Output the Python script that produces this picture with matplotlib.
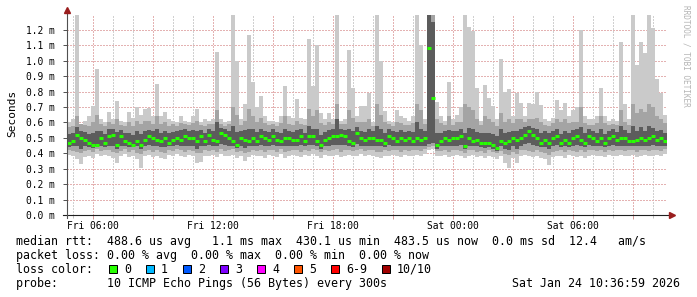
import numpy as np
import matplotlib
matplotlib.use("Agg")
import matplotlib.pyplot as plt
from matplotlib.patches import Rectangle

# smokeping style rtt graph, last 30 hours, values in microseconds
# one column every 12 minutes, first column starts Fri 04:42
start_hour = 4.7
step_hour = 0.2

med = [468, 478, 522, 500, 489, 468, 457, 457, 500, 468,
       511, 522, 457, 511, 478, 468, 457, 478, 457, 489,
       511, 500, 489, 478, 500, 468, 489, 500, 489, 515,
       500, 500, 478, 511, 478, 522, 489, 478, 532, 522,
       500, 478, 457, 500, 489, 478, 500, 478, 511, 500,
       489, 511, 489, 478, 500, 500, 489, 489, 511, 478,
       511, 511, 478, 457, 489, 500, 511, 515, 522, 511,
       478, 468, 532, 500, 489, 500, 500, 489, 489, 468,
       511, 500, 478, 500, 489, 500, 478, 500, 489, 500,
       1080, 760, 457, 478, 500, 489, 500, 500, 511, 446,
       500, 478, 489, 468, 468, 468, 457, 435, 478, 468,
       478, 500, 489, 500, 522, 543, 522, 500, 468, 489,
       468, 500, 511, 468, 489, 468, 500, 511, 489, 468,
       511, 500, 478, 500, 468, 500, 511, 489, 500, 500,
       478, 478, 489, 500, 489, 500, 511, 489, 500, 478]

# max of the 10 pings
hi = [600, 620, 1300, 590, 610, 640, 710, 950, 620, 600,
      665, 620, 740, 610, 600, 665, 630, 700, 650, 690,
      695, 640, 850, 640, 670, 620, 610, 600, 640, 610,
      605, 640, 685, 600, 620, 610, 620, 1060, 620, 600,
      610, 1300, 1000, 620, 720, 1165, 860, 700, 770, 640,
      610, 610, 600, 640, 835, 640, 630, 750, 630, 620,
      1140, 835, 1105, 660, 620, 660, 620, 1300, 610, 620,
      1070, 825, 640, 705, 705, 790, 600, 1300, 1000, 675,
      610, 600, 680, 640, 630, 610, 640, 1300, 1100, 620,
      1300, 1300, 730, 640, 610, 865, 620, 650, 700, 1300,
      1220, 1190, 825, 610, 845, 760, 705, 620, 1010, 800,
      815, 640, 790, 727, 640, 727, 720, 800, 716, 620,
      610, 630, 748, 680, 727, 640, 680, 700, 1200, 640,
      620, 620, 640, 825, 640, 610, 620, 610, 1125, 720,
      620, 1300, 975, 1125, 1050, 1300, 1210, 880, 790, 650]

# min of the 10 pings
lo = [390, 380, 360, 330, 375, 385, 370, 395, 380, 390,
      385, 370, 340, 380, 395, 375, 385, 360, 305, 380,
      390, 375, 385, 370, 360, 390, 380, 395, 385, 375,
      390, 385, 340, 345, 385, 380, 390, 375, 395, 380,
      385, 390, 370, 380, 350, 375, 390, 380, 385, 370,
      390, 385, 375, 395, 370, 380, 390, 385, 375, 390,
      380, 395, 385, 370, 390, 380, 385, 390, 375, 385,
      390, 380, 385, 395, 380, 390, 385, 375, 370, 385,
      380, 390, 385, 375, 390, 380, 385, 390, 380, 395,
      420, 430, 385, 380, 390, 375, 385, 390, 380, 370,
      385, 390, 375, 380, 370, 385, 375, 360, 380, 340,
      305, 370, 340, 385, 390, 380, 375, 385, 370, 360,
      327, 375, 380, 385, 370, 390, 380, 375, 385, 370,
      385, 390, 380, 385, 375, 390, 380, 385, 390, 380,
      385, 390, 375, 385, 390, 380, 385, 390, 380, 395]

# 2nd and 9th ping
lo9 = [420, 415, 410, 400, 415, 420, 410, 425, 415, 420,
       420, 410, 400, 415, 425, 410, 420, 405, 395, 415,
       420, 410, 420, 410, 405, 420, 415, 425, 420, 410,
       420, 415, 400, 405, 420, 415, 420, 410, 425, 415,
       420, 425, 410, 415, 400, 410, 420, 415, 420, 410,
       420, 420, 410, 425, 410, 415, 420, 420, 410, 420,
       415, 425, 420, 410, 420, 415, 420, 425, 410, 420,
       420, 415, 420, 425, 415, 420, 420, 410, 410, 420,
       415, 420, 420, 410, 420, 415, 420, 420, 415, 425,
       440, 450, 415, 415, 420, 410, 420, 420, 415, 405,
       420, 420, 410, 415, 405, 420, 410, 400, 415, 395,
       390, 410, 395, 420, 420, 415, 410, 420, 410, 400,
       390, 410, 415, 420, 410, 420, 415, 410, 420, 410,
       420, 420, 415, 420, 410, 420, 415, 420, 420, 415,
       420, 420, 410, 420, 420, 415, 420, 420, 415, 425]

hi9 = [570, 580, 640, 590, 585, 580, 600, 650, 590, 575,
       600, 590, 620, 585, 575, 600, 580, 610, 590, 610,
       610, 590, 640, 590, 600, 580, 590, 580, 595, 590,
       585, 595, 610, 585, 580, 590, 590, 680, 590, 580,
       590, 700, 650, 585, 610, 690, 640, 600, 630, 595,
       585, 590, 580, 595, 640, 590, 585, 610, 590, 585,
       690, 640, 680, 595, 585, 600, 590, 720, 590, 590,
       680, 630, 600, 605, 605, 620, 580, 720, 650, 600,
       590, 580, 600, 595, 585, 585, 595, 720, 680, 590,
       1300, 1300, 620, 595, 585, 640, 585, 600, 605, 720,
       700, 680, 620, 585, 640, 620, 605, 575, 660, 605,
       620, 595, 620, 620, 600, 625, 620, 630, 605, 585,
       580, 595, 620, 600, 620, 595, 605, 605, 700, 595,
       585, 585, 595, 640, 595, 585, 590, 585, 680, 605,
       585, 720, 660, 690, 670, 720, 700, 640, 620, 595]

# 3rd/4th and 7th/8th ping (dark core)
q1 = [440, 445, 450, 430, 445, 440, 435, 445, 450, 440,
      450, 445, 425, 450, 450, 440, 440, 445, 430, 445,
      455, 445, 450, 440, 440, 445, 445, 455, 450, 450,
      450, 450, 430, 445, 445, 455, 450, 445, 460, 455,
      450, 450, 435, 450, 435, 445, 450, 445, 455, 450,
      450, 455, 445, 450, 445, 450, 450, 445, 455, 445,
      455, 455, 445, 430, 450, 450, 455, 455, 455, 455,
      445, 440, 460, 450, 445, 450, 450, 445, 445, 440,
      455, 450, 445, 450, 445, 450, 445, 450, 445, 450,
      460, 470, 430, 445, 450, 445, 450, 450, 455, 425,
      450, 445, 445, 440, 435, 440, 430, 415, 445, 425,
      420, 450, 430, 450, 460, 470, 455, 450, 440, 440,
      425, 450, 455, 440, 445, 440, 450, 455, 450, 440,
      455, 450, 445, 450, 440, 450, 455, 445, 450, 450,
      445, 445, 445, 450, 445, 450, 455, 445, 450, 445]

q3 = [525, 530, 570, 545, 540, 525, 530, 545, 545, 525,
      555, 560, 540, 550, 530, 535, 520, 545, 525, 545,
      550, 545, 560, 535, 545, 530, 540, 545, 550, 555,
      545, 550, 545, 550, 535, 560, 545, 600, 565, 560,
      545, 580, 540, 545, 550, 560, 555, 540, 560, 545,
      540, 555, 540, 535, 560, 545, 540, 550, 555, 535,
      575, 555, 560, 520, 540, 550, 555, 620, 560, 550,
      560, 545, 570, 545, 540, 555, 545, 580, 560, 530,
      555, 545, 540, 550, 540, 545, 540, 600, 560, 545,
      1300, 1250, 530, 535, 545, 550, 545, 545, 555, 530,
      565, 560, 540, 530, 535, 530, 525, 510, 560, 530,
      540, 545, 545, 560, 570, 580, 565, 555, 530, 545,
      530, 545, 560, 525, 545, 530, 550, 560, 570, 530,
      555, 545, 535, 555, 525, 545, 555, 540, 580, 550,
      530, 575, 545, 570, 545, 580, 565, 545, 550, 535]

tick_hours = [6, 12, 18, 24, 30]
tick_labels = ["Fri 06:00", "Fri 12:00", "Fri 18:00", "Sat 00:00", "Sat 06:00"]

loss_labels = ["0", "1", "2", "3", "4", "5", "6-9", "10/10"]
loss_colors = ["#26ff00", "#00b8ff", "#0059ff", "#7e00ff",
               "#ff00ff", "#ff5500", "#ff0000", "#a10000"]

plt.rcParams["font.family"] = "DejaVu Sans Mono"

fig = plt.figure(figsize=(6.97, 2.97), dpi=100)
fig.patch.set_facecolor("white")
ax = fig.add_axes([67 / 697, 82 / 297, 600 / 697, 200 / 297])

t = start_hour + step_hour * np.arange(len(med))
edges = np.append(t, t[-1] + step_hour)


def band(low, high, color):
    low = np.append(low, low[-1])
    high = np.append(high, high[-1])
    ax.fill_between(edges, low, high, step="post", color=color, linewidth=0, zorder=2)


band(lo, hi, "#cacaca")
band(lo9, hi9, "#a4a4a4")
band(q1, q3, "#5c5c5c")
ax.hlines(med, t, t + step_hour, colors="#26ff00", linewidth=2.2, zorder=3)

ax.set_xlim(start_hour, start_hour + 30)
ax.set_ylim(0, 1297)

major_x = np.arange(6, 35, 3)
ax.set_xticks(major_x, labels=[tick_labels[tick_hours.index(h)] if h in tick_hours else ""
                               for h in major_x])
ax.set_xticks(np.arange(5, 35, 1), minor=True)
yt = np.arange(0, 1201, 100)
ax.set_yticks(yt, labels=["%.1f m" % (v / 1000) for v in yt])

# rrdtool grid: 1px dots, red major, grey minor
dots = (0, (1, 1))
ax.grid(which="major", color="#e4b2b2", linestyle=dots, linewidth=1.0, antialiased=False)
ax.grid(which="minor", axis="x", color="#d0d0d0", linestyle=dots, linewidth=1.0,
        antialiased=False)
ax.set_axisbelow(True)

ax.tick_params(axis="x", which="major", length=3, width=0.72, color="#d99a9a",
               labelsize=6.9, pad=1.5)
ax.tick_params(axis="x", which="minor", length=2, width=0.72, color="#c4c4c4")
ax.tick_params(axis="y", length=3, width=0.72, color="#555555", labelsize=6.9, pad=6)
for s in ax.spines.values():
    s.set_visible(False)

# overlay in pixel coordinates for axis arrows and the legend block
ov = fig.add_axes([0, 0, 1, 1])
ov.set_xlim(0, 697)
ov.set_ylim(297, 0)
ov.axis("off")
ov.patch.set_alpha(0)

ov.plot([63, 671], [215, 215], color="#202020", linewidth=0.8)
ov.plot([67, 67], [218, 11], color="#505050", linewidth=0.8)
ov.plot([67], [10], marker="^", markersize=4, color="#9a1e1e")
ov.plot([672], [215], marker=">", markersize=4, color="#9a1e1e")

ov.text(12, 113, "Seconds", rotation=90, ha="center", va="center", fontsize=8)
ov.text(686, 5, "RRDTOOL / TOBI OETIKER", rotation=270, ha="center", va="top",
        fontsize=5.6, color="#b4b4b4")

fs = 8.4
ov.text(16, 245, "median rtt:  488.6 us avg   1.1 ms max  430.1 us min  483.5 us now"
        "  0.0 ms sd  12.4   am/s", fontsize=fs, va="baseline")
ov.text(16, 259, "packet loss: 0.00 % avg  0.00 % max  0.00 % min  0.00 % now",
        fontsize=fs, va="baseline")
ov.text(16, 273, "loss color:", fontsize=fs, va="baseline")
x = 108.5
for lab, col in zip(loss_labels, loss_colors):
    ov.add_patch(Rectangle((x, 265), 8, 8, facecolor=col, edgecolor="black", linewidth=0.72))
    ov.text(x + 15.5, 273, lab, fontsize=fs, va="baseline")
    x += 15.5 + 7 * len(lab) + 14.5
ov.text(16, 287, "probe:       10 ICMP Echo Pings (56 Bytes) every 300s",
        fontsize=fs, va="baseline")
ov.text(680, 287, "Sat Jan 24 10:36:59 2026", fontsize=fs, va="baseline", ha="right")

fig.savefig("out.png", dpi=100, facecolor="white")
